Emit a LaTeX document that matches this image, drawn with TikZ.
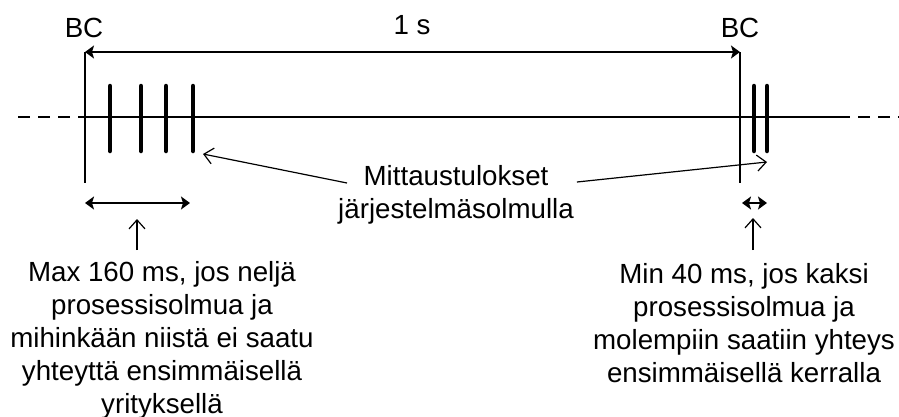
\documentclass[tikz,border=0pt]{standalone}
\usepackage{fontspec}
\setmainfont{Liberation Sans}
\usetikzlibrary{arrows.meta,positioning}

\begin{document}
\begin{tikzpicture}[x=1pt,y=-1pt,
    txt/.style={inner sep=0pt,align=center,font=\fontsize{27.7}{33}\selectfont},
    bar/.style={line width=4.5pt,line cap=round},
    span/.style={line width=1.6pt,
      {Stealth[length=9pt,width=13pt,inset=2pt]}-{Stealth[length=9pt,width=13pt,inset=2pt]}},
    pointer/.style={line width=1.2pt,-{Straight Barb[length=9pt,width=16pt]}}]
  \useasboundingbox (0,0) rectangle (899,416);

  % the two BC frames
  \coordinate (bcstartL) at (85,52);
  \coordinate (bcstartR) at (740,52);
  \node [txt,anchor=base] (bcL) at (84,37) {BC};
  \node [txt,anchor=base] (bcR) at (740,37) {BC};
  \node [txt,anchor=base] (onesec) at (412,34) {1 s};
  \draw [line width=2pt] (bcstartL) -- ++(0,131);
  \draw [line width=2pt] (bcstartR) -- ++(0,131);
  \draw [span] (bcstartL) -- (bcstartR);

  % time line
  \draw [line width=1.6pt,dash pattern=on 12pt off 8pt] (18,117) -- (85,117);
  \draw [line width=1.6pt] (85,117) -- (838,117);
  \draw [line width=1.6pt,dash pattern=on 12pt off 8pt] (838,117) -- (899,117);
  \foreach \x in {110,141,166,193,754,767}
    \draw [bar] (\x,86) -- (\x,151);

  % results
  \node [txt,anchor=north] (results) at (456,165) {Mittaustulokset\\järjestelmäsolmulla};
  \coordinate (hitL) at (203,154);
  \coordinate (hitR) at (767,162);
  \draw [pointer] ([shift={(9pt,-18pt)}]results.north west) -- (hitL);
  \draw [pointer] ([shift={(3pt,-17pt)}]results.north east) -- (hitR);

  % slot lengths
  \draw [span] (85,203) -- (190,203);
  \draw [span] (742,203) -- (767,203);
  \node [txt,anchor=north] (maxnote) at (162,261)
    {Max 160 ms, jos neljä\\prosessisolmua ja\\mihinkään niistä ei saatu\\yhteyttä ensimmäisellä\\yrityksellä};
  \node [txt,anchor=north] (minnote) at (744,263)
    {Min 40 ms, jos kaksi\\prosessisolmua ja\\molempiin saatiin yhteys\\ensimmäisellä kerralla};
  \draw [pointer] ([shift={(-25pt,11pt)}]maxnote.north) -- ++(0,-31);
  \draw [pointer] ([shift={(9pt,13pt)}]minnote.north) -- ++(0,-32);
\end{tikzpicture}
\end{document}
